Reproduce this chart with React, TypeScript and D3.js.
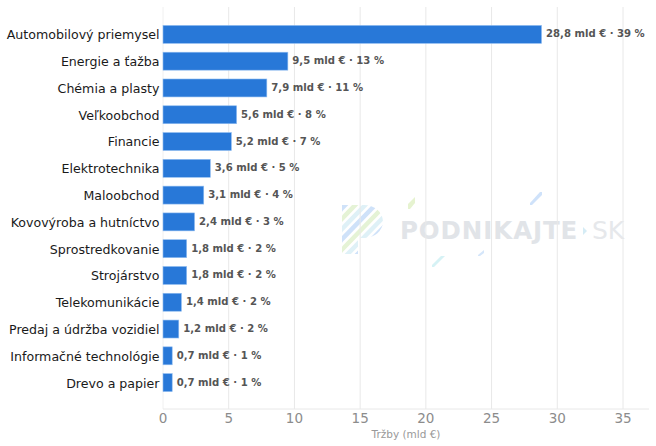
import * as d3 from 'd3';

const sectors = [
  'Automobilový priemysel',
  'Energie a ťažba',
  'Chémia a plasty',
  'Veľkoobchod',
  'Financie',
  'Elektrotechnika',
  'Maloobchod',
  'Kovovýroba a hutníctvo',
  'Sprostredkovanie',
  'Strojárstvo',
  'Telekomunikácie',
  'Predaj a údržba vozidiel',
  'Informačné technológie',
  'Drevo a papier',
];
const revenue = [28.8, 9.5, 7.9, 5.6, 5.2, 3.6, 3.1, 2.4, 1.8, 1.8, 1.4, 1.2, 0.7, 0.7];
const shares = [39, 13, 11, 8, 7, 5, 4, 3, 2, 2, 2, 2, 1, 1];
const xTicks = [0, 5, 10, 15, 20, 25, 30, 35];

const width = 656;
const height = 446;
const margin = { top: 7, right: 7, bottom: 37, left: 163 };
const font = '"DejaVu Sans", sans-serif';

const Watermark = () => (
  <g>
    <defs>
      <clipPath id="wm-clip">
        <path d="M342 205h22a19 16.5 0 0 1 0 33h-6v16h-16z" />
      </clipPath>
    </defs>
    <g clipPath="url(#wm-clip)" strokeWidth={4.5} opacity={0.75}>
      {d3.range(11).map((i) => (
        <line
          key={i}
          x1={290 + i * 10}
          y1={262}
          x2={290 + i * 10 + 62}
          y2={198}
          stroke={i % 3 === 1 ? '#dcefc8' : i % 3 === 2 ? '#d5ecf5' : '#bfd8f7'}
        />
      ))}
    </g>
    <path d="M408 204l7-7v6l-5 6h-2z" fill="#e6f3d0" />
    <path d="M530 203l10-11h2v3l-10 10h-2z" fill="#cfe2fa" />
    <path d="M432 265l9-9h4l-11 11h-2z" fill="#d6f2f5" />
    <path d="M478 255l6-5v3l-4 3h-2z" fill="#d5e6fa" />
    <text
      x={400}
      y={239}
      fontFamily={font}
      fontSize={24.5}
      fontWeight={700}
      letterSpacing={0.9}
      fill="#e1e4e8"
    >
      PODNIKAJTE
    </text>
    <path d="M583 227l4 4-4 4z" fill="#d5ecf5" />
    <text x={592} y={239} fontFamily={font} fontSize={25} fill="#e6e8eb">
      SK
    </text>
  </g>
);

export default function App() {
  const innerBottom = height - margin.bottom;
  const x = d3
    .scaleLinear()
    .domain([0, 35])
    .range([margin.left, 623]);
  const y = d3
    .scaleBand<string>()
    .domain(sectors)
    .range([21, 396])
    .paddingInner(0.33)
    .paddingOuter(0.165);

  return (
    <svg
      width={width}
      height={height}
      style={{ position: 'absolute', left: 0, top: 0, background: '#fff' }}
    >
      <Watermark />
      {xTicks.map((t) => (
        <g key={t}>
          <line
            x1={x(t)}
            x2={x(t)}
            y1={margin.top}
            y2={innerBottom}
            stroke={t === 0 ? '#f0f0f0' : '#e8e8e8'}
            strokeWidth={1}
          />
          <text
            x={x(t)}
            y={423}
            textAnchor="middle"
            fontFamily={font}
            fontSize={13.5}
            fill="#8c8c8c"
          >
            {t}
          </text>
        </g>
      ))}
      <line
        x1={margin.left}
        x2={width - margin.right}
        y1={innerBottom}
        y2={innerBottom}
        stroke="#e8e8e8"
      />
      {sectors.map((s, i) => {
        const by = y(s) as number;
        const cy = by + y.bandwidth() / 2;
        return (
          <g key={s}>
            <rect
              x={x(0)}
              y={by}
              width={x(revenue[i]) - x(0)}
              height={y.bandwidth()}
              fill="#2878d8"
              stroke="#8fbcf0"
              strokeWidth={0.6}
            />
            <text
              x={159.5}
              y={cy + 0.5}
              dy="0.35em"
              textAnchor="end"
              fontFamily={font}
              fontSize={12.6}
              fill="#1a1a1a"
            >
              {s}
            </text>
            <text
              x={x(revenue[i]) + 4.5}
              y={cy - 0.5}
              dy="0.35em"
              fontFamily={font}
              fontSize={10.1}
              fontWeight={700}
              fill="#555"
            >
              {`${String(revenue[i]).replace('.', ',')} mld € · ${shares[i]} %`}
            </text>
          </g>
        );
      })}
      <text
        x={406}
        y={438}
        textAnchor="middle"
        fontFamily={font}
        fontSize={10.5}
        fill="#999"
      >
        Tržby (mld €)
      </text>
    </svg>
  );
}
